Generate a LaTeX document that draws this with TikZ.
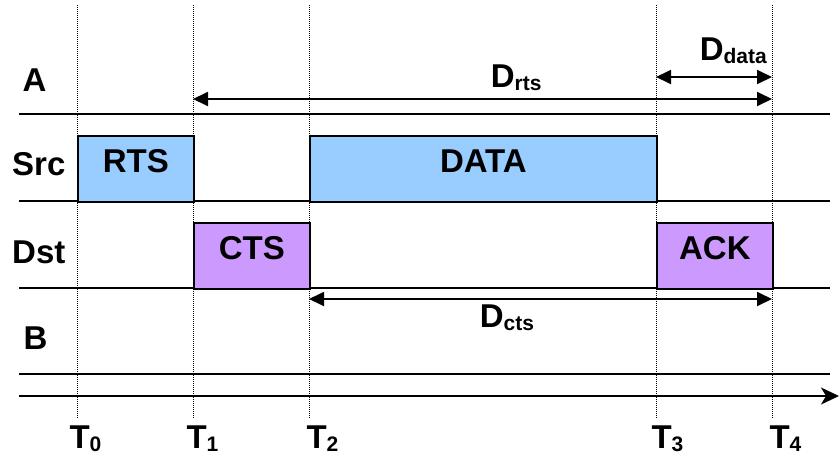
\documentclass[tikz,border=0pt]{standalone}
\usepackage{fontspec}
\setmainfont{Liberation Sans}
\usetikzlibrary{arrows.meta}
\definecolor{framefill}{HTML}{99CCFF}
\definecolor{ctrlfill}{HTML}{CC99FF}
\newcommand\lowtext[2]{\raisebox{-#1}{\fontsize{21}{21}\selectfont #2}}
\tikzset{
  every node/.style={font=\bfseries\fontsize{33}{33}\selectfont, inner sep=0pt},
  lbl/.style={anchor=base west},
  frame/.style={draw=black, line width=1.8pt, minimum height=66pt, text depth=16pt, anchor=north west},
  rule/.style={line width=1.8pt},
  tick/.style={line width=0.8pt, dash pattern=on 1pt off 1pt},
  span/.style={line width=1.8pt, {Triangle[length=15pt,width=14pt]}-{Triangle[length=15pt,width=14pt]}},
  timeline/.style={line width=1.8pt, -{Stealth[length=18pt,width=17pt,inset=5pt]}}
}
\begin{document}
\begin{tikzpicture}[x=1pt,y=-1pt]
\useasboundingbox (0,0) rectangle (840,456);

% time instants: dotted guide lines
\foreach \n/\x in {0/77,1/193,2/309,3/656,4/772}{
  \coordinate (top\n) at (\x,5);
  \coordinate (bot\n) at (\x,418);
  \draw[tick] (top\n) -- (bot\n);
}

% lane separators
\foreach \n/\y in {1/114,2/201,3/288,4/374.3}{
  \coordinate (ls\n) at (19,\y);
  \coordinate (le\n) at (830,\y);
  \draw[rule] (ls\n) -- (le\n);
}

% time axis
\coordinate (ax0) at (19,396);
\coordinate (ax1) at (839,396);
\draw[timeline] (ax0) -- (ax1);

% frames
\node[frame, fill=framefill, minimum width=116pt] (rts) at (77,135) {RTS};
\node[frame, fill=framefill, minimum width=347pt] (data) at (309,135) {DATA};
\node[frame, fill=ctrlfill, minimum width=116pt] (cts) at (193,222) {CTS};
\node[frame, fill=ctrlfill, minimum width=116pt] (ack) at (656,222) {ACK};

% durations
\coordinate (dd0) at (656,77);
\coordinate (dd1) at (772,77);
\draw[span] (dd0) -- (dd1);
\coordinate (dr0) at (193,99);
\coordinate (dr1) at (772,99);
\draw[span] (dr0) -- (dr1);
\coordinate (dc0) at (309,299);
\coordinate (dc1) at (772,299);
\draw[span] (dc0) -- (dc1);

% lane names
\node[lbl] (la) at (22.5,91.5) {A};
\node[lbl] (lsrc) at (12,175.5) {Src};
\node[lbl] (ldst) at (12,263) {Dst};
\node[lbl] (lb) at (23.5,349.5) {B};

% duration labels
\node[lbl] (ldata) at (699.6,60) {D\lowtext{3pt}{data}};
\node[lbl] (lrts) at (490.6,87) {D\lowtext{3pt}{rts}};
\node[lbl] (lcts) at (479.6,327) {D\lowtext{3pt}{cts}};

% instant labels
\node[lbl] (lt0) at (69.3,448) {T\lowtext{3.5pt}{0}};
\node[lbl] (lt1) at (186.3,448) {T\lowtext{3.5pt}{1}};
\node[lbl] (lt2) at (306.3,448) {T\lowtext{3.5pt}{2}};
\node[lbl] (lt3) at (651.3,448) {T\lowtext{3.5pt}{3}};
\node[lbl] (lt4) at (769.3,448) {T\lowtext{3.5pt}{4}};
\end{tikzpicture}
\end{document}
